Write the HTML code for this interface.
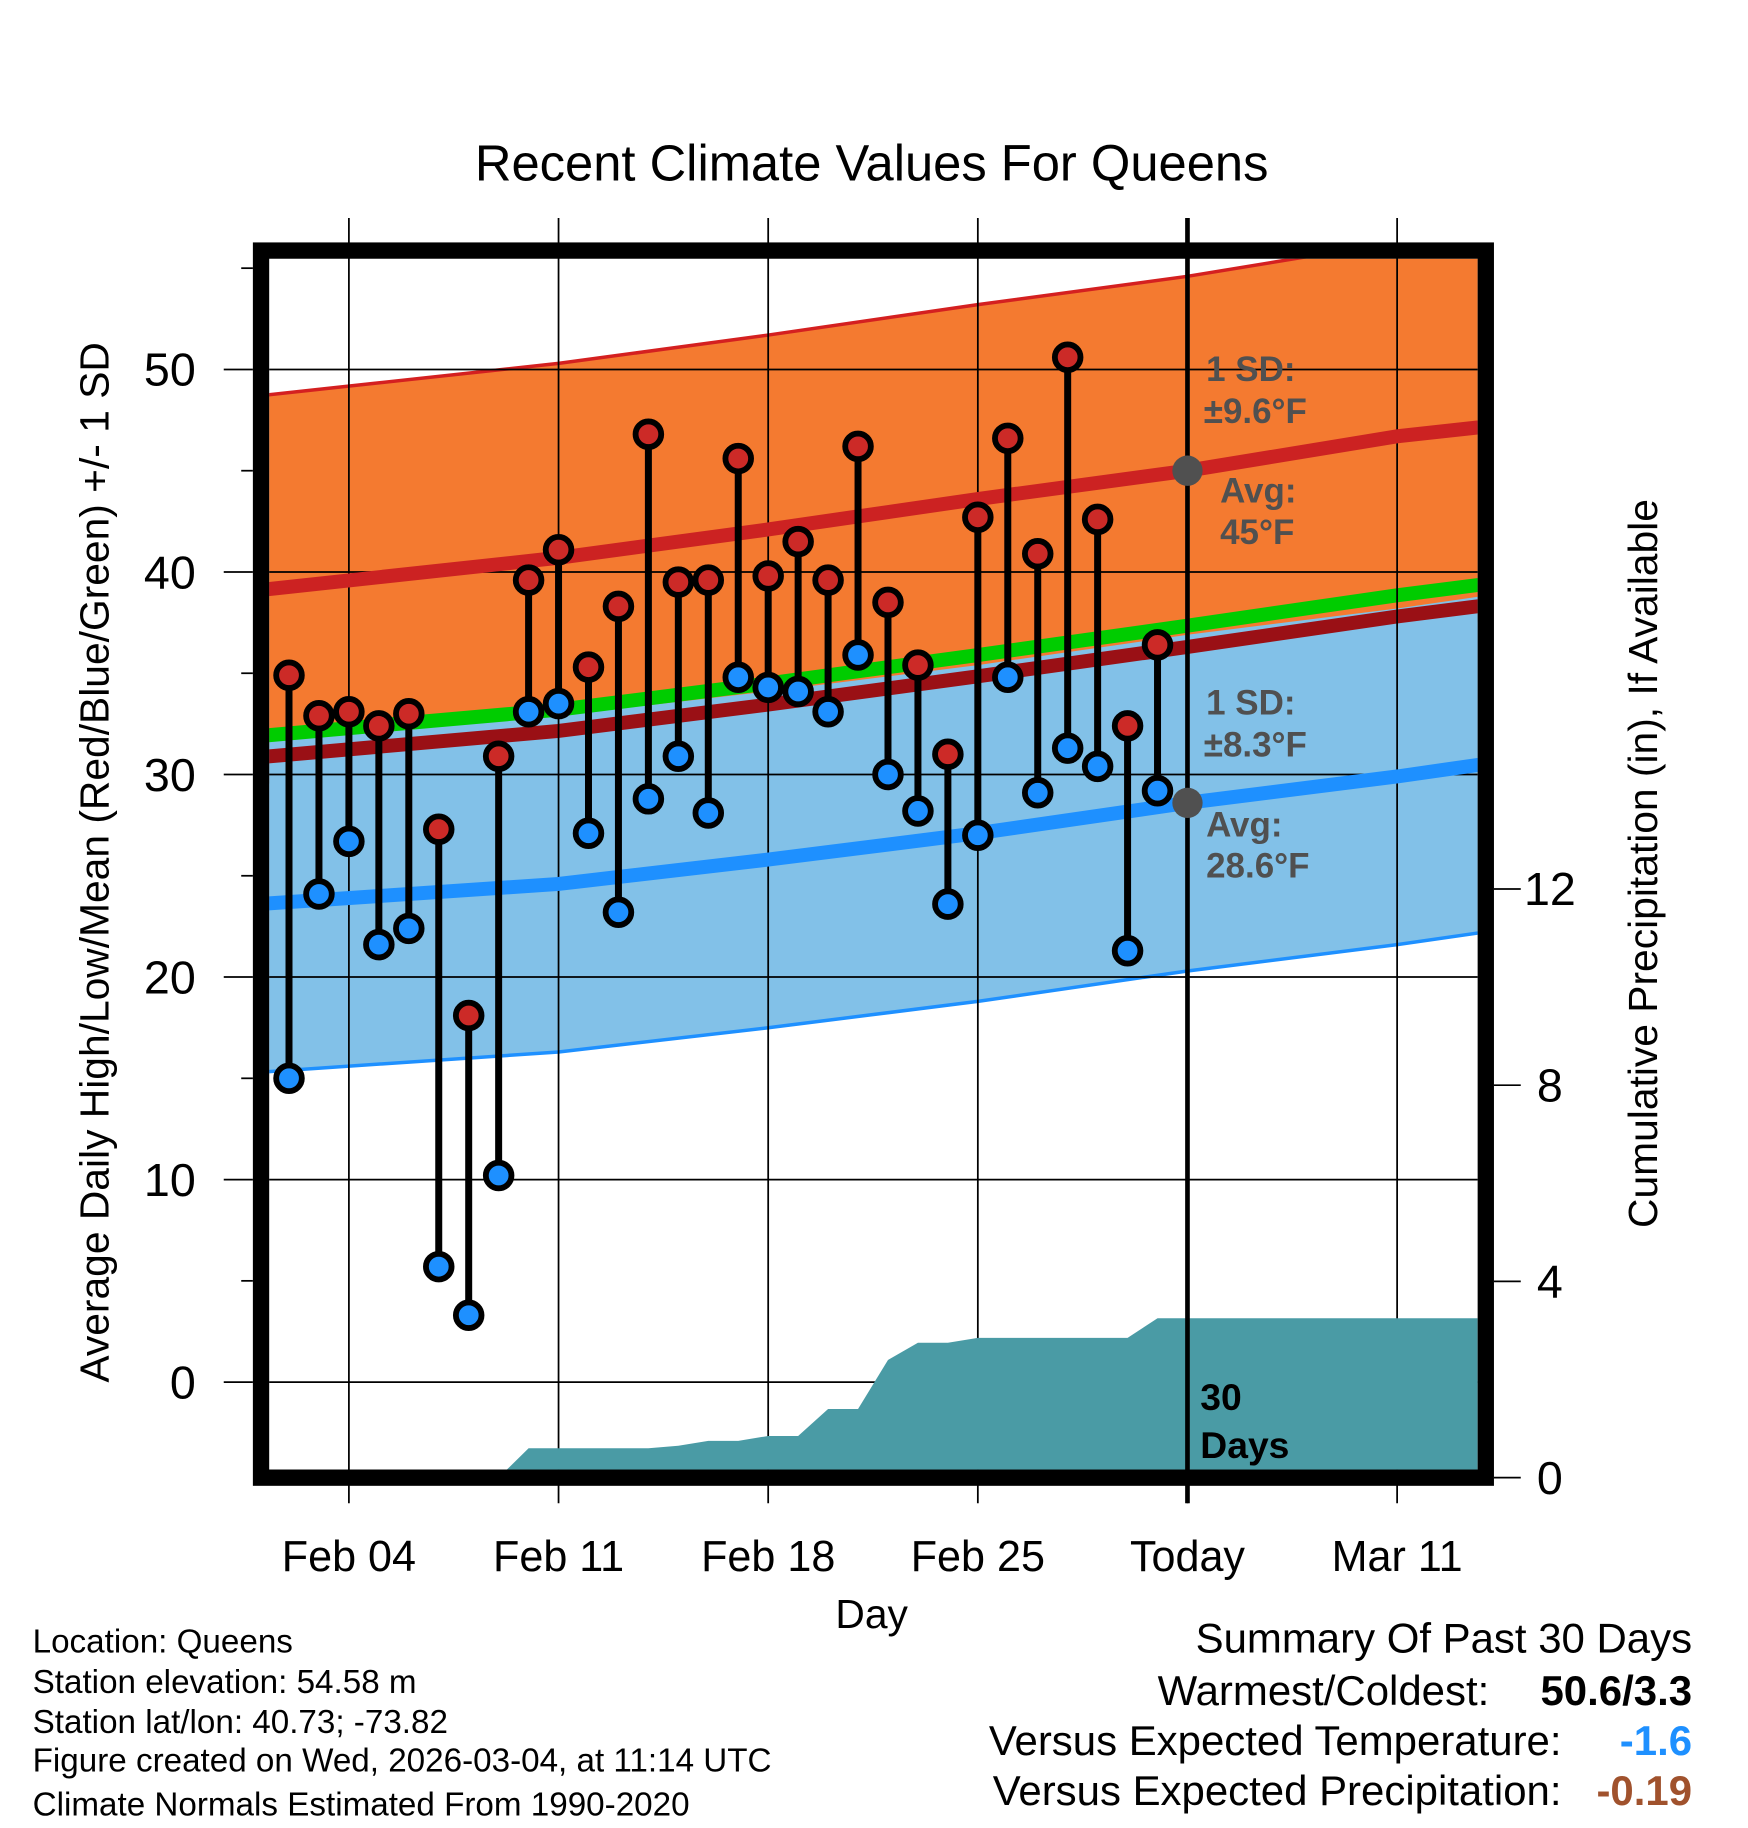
<!DOCTYPE html>
<html><head><meta charset="utf-8"><style>
html,body{margin:0;padding:0;background:#fff;}
svg{display:block;font-family:"Liberation Sans",Arial,sans-serif;}
</style></head><body>
<svg id="chart" width="1748" height="1828" viewBox="0 0 1500 1568.6" xmlns="http://www.w3.org/2000/svg">
<defs><clipPath id="pc"><rect x="231" y="222" width="1037" height="1039"/></clipPath></defs>
<g id="bands" clip-path="url(#pc)"></g>
<g id="grid"></g>
<g id="precip" clip-path="url(#pc)"></g>
<g id="lines" clip-path="url(#pc)"></g>
<g id="marks" clip-path="url(#pc)"></g>
<g id="axes"></g>
<text x="748" y="155" font-size="43.5" text-anchor="middle">Recent Climate Values For Queens</text>
<text transform="translate(93,740) rotate(-90)" font-size="35" text-anchor="middle">Average Daily High/Low/Mean (Red/Blue/Green) +/- 1 SD</text>
<text transform="translate(1422,741) rotate(-90)" font-size="35" text-anchor="middle">Cumulative Precipitation (in), If Available</text>
<text x="748" y="1397" font-size="35" text-anchor="middle">Day</text>
<g font-size="28.5">
<text x="28" y="1418">Location: Queens</text>
<text x="28" y="1453">Station elevation: 54.58 m</text>
<text x="28" y="1487">Station lat/lon: 40.73; -73.82</text>
<text x="28" y="1520">Figure created on Wed, 2026-03-04, at 11:14 UTC</text>
<text x="28" y="1558">Climate Normals Estimated From 1990-2020</text>
</g>
<g font-size="36" text-anchor="end">
<text x="1452" y="1418">Summary Of Past 30 Days</text>
<text x="1278" y="1463">Warmest/Coldest:</text>
<text x="1452" y="1463" font-weight="bold">50.6/3.3</text>
<text x="1340" y="1506">Versus Expected Temperature:</text>
<text x="1452" y="1506" font-weight="bold" fill="#1e90ff">-1.6</text>
<text x="1340" y="1549">Versus Expected Precipitation:</text>
<text x="1452" y="1549" font-weight="bold" fill="#a0522d">-0.19</text>
</g>
</svg>
<script>
const dayLabels=["Feb 04","Feb 11","Feb 18","Feb 25","Today","Mar 11"];
const dayTicks=[3,10,17,24,31,38];
const yTicks=[0,10,20,30,40,50];
const y2Ticks=[0,4,8,12];
const highs=[34.9,32.9,33.1,32.4,33.0,27.3,18.1,30.9,39.6,41.1,35.3,38.3,46.8,39.5,39.6,45.6,39.8,41.5,39.6,46.2,38.5,35.4,31.0,42.7,46.6,40.9,50.6,42.6,32.4,36.4];
const lows=[15.0,24.1,26.7,21.6,22.4,5.7,3.3,10.2,33.1,33.5,27.1,23.2,28.8,30.9,28.1,34.8,34.3,34.1,33.1,35.9,30.0,28.2,23.6,27.0,34.8,29.1,31.3,30.4,21.3,29.2];
const precip=[0,0,0,0,0,0,0,0,0.6,0.6,0.6,0.6,0.6,0.65,0.75,0.75,0.85,0.85,1.4,1.4,2.4,2.75,2.75,2.85,2.85,2.85,2.85,2.85,2.85,3.25];
const normDays=[0,10,17,24,31,38,46];
const normHigh=[39.1,40.7,42.1,43.6,45.0,46.7,48.0];
const normLow=[23.6,24.6,25.8,27.1,28.6,29.9,31.6];
const sdHigh=9.6, sdLow=8.3;

const NS="http://www.w3.org/2000/svg";
const L=231,R=1268,T=222,B=1261;
const xd=d=>248+(d-1)*25.7;
const yv=v=>1186-17.38*v;
const yp=p=>1268-42.1*p;
function mk(tag,attrs,parent){const e=document.createElementNS(NS,tag);for(const k in attrs)e.setAttribute(k,attrs[k]);document.getElementById(parent).appendChild(e);return e;}
function pts(fn){return normDays.map((d,i)=>xd(d).toFixed(1)+","+yv(fn(i)).toFixed(1));}
let up=pts(i=>normHigh[i]+sdHigh), dn=pts(i=>normHigh[i]-sdHigh).reverse();
let e=mk('polygon',{points:up.concat(dn).join(' '),fill:'#f47a30'},'bands');


up=pts(i=>normLow[i]+sdLow); dn=pts(i=>normLow[i]-sdLow).reverse();
e=mk('polygon',{points:up.concat(dn).join(' '),fill:'#82c1e8'},'bands');


e=mk('polyline',{points:pts(i=>normHigh[i]+sdHigh).join(' '),fill:'none',stroke:'#d42020','stroke-width':3},'bands');


e=mk('polyline',{points:pts(i=>normLow[i]-sdLow).join(' '),fill:'none',stroke:'#1e90ff','stroke-width':3},'bands');


e=mk('polyline',{points:pts(i=>(normHigh[i]+normLow[i])/2-0.5).join(' '),fill:'none',stroke:'#9a1015','stroke-width':12},'bands');


e=mk('polyline',{points:pts(i=>(normHigh[i]+normLow[i])/2+0.55).join(' '),fill:'none',stroke:'#00cc00','stroke-width':12},'bands');


yTicks.forEach(v=>{const g=mk('line',{x1:L,x2:R,y1:yv(v),y2:yv(v),stroke:'#000','stroke-width':1.5},'grid');

});
dayTicks.forEach(d=>{const g=mk('line',{x1:xd(d),x2:xd(d),y1:187,y2:1290,stroke:'#000','stroke-width':1.5},'grid');

});
let pp=[xd(8)+','+B];precip.forEach((p,i)=>pp.push(xd(i+1).toFixed(1)+','+yp(p).toFixed(1)));
pp.push(R+','+yp(precip[precip.length-1]).toFixed(1));pp.push(R+','+B);
e=mk('polygon',{points:pp.join(' '),fill:'#4a9ba5'},'precip');


e=mk('polyline',{points:pts(i=>normHigh[i]).join(' '),fill:'none',stroke:'#cc2222','stroke-width':12},'lines');


e=mk('polyline',{points:pts(i=>normLow[i]).join(' '),fill:'none',stroke:'#1e90ff','stroke-width':12},'lines');


highs.forEach((h,i)=>{const x=xd(i+1);
 let s=mk('line',{x1:x,x2:x,y1:yv(h),y2:yv(lows[i]),stroke:'#000','stroke-width':6},'marks');
 
 
 let c=mk('circle',{cx:x,cy:yv(h),r:11,fill:'#cc2a27',stroke:'#000','stroke-width':5},'marks');
 
 
 c=mk('circle',{cx:x,cy:yv(lows[i]),r:11,fill:'#1e90ff',stroke:'#000','stroke-width':5},'marks');
 
 
});
e=mk('line',{x1:xd(31),x2:xd(31),y1:187,y2:1290,stroke:'#000','stroke-width':4},'axes');


e=mk('circle',{cx:xd(31),cy:yv(normHigh[4]),r:13,fill:'#505050'},'axes');


e=mk('circle',{cx:xd(31),cy:yv(normLow[4]),r:13,fill:'#505050'},'axes');


e=mk('rect',{x:224,y:215,width:1051,height:1053,fill:'none',stroke:'#000','stroke-width':14},'axes');


for(let v=-5;v<=55;v+=5){const y=yv(v);if(y<T||y>B)continue;
 const t=mk('line',{x1:v%10===0?192:207,x2:217,y1:y,y2:y,stroke:'#000','stroke-width':1.5},'axes');
 
 }
yTicks.forEach(v=>{const t=mk('text',{x:168,y:yv(v)+14,'font-size':40,'text-anchor':'end'},'axes');t.textContent=v;
 
 });
y2Ticks.forEach(p=>{let t=mk('line',{x1:1282,x2:1305,y1:yp(p),y2:yp(p),stroke:'#000','stroke-width':1.5},'axes');
 
 
 t=mk('text',{x:1330,y:yp(p)+14,'font-size':40,'text-anchor':'middle'},'axes');t.textContent=p;
 
 });
dayTicks.forEach((d,i)=>{const t=mk('text',{x:xd(d),y:1348,'font-size':37,'text-anchor':'middle'},'axes');t.textContent=dayLabels[i];
 
 });
const ann=[["1 SD:",1035,327],["±9.6°F",1033,363],["Avg:",1047,431],["45°F",1047,467],["1 SD:",1035,613],["±8.3°F",1033,649],["Avg:",1035,718],["28.6°F",1035,753]];
ann.forEach(a=>{const t=mk('text',{x:a[1],y:a[2],'font-size':30,'font-weight':'bold',fill:'#505050'},'axes');t.textContent=a[0];
 
 });
[["30",1030,1210],["Days",1030,1251]].forEach(a=>{const t=mk('text',{x:a[1],y:a[2],'font-size':32,'font-weight':'bold',fill:'#000'},'axes');t.textContent=a[0];
 
 });
</script>
</body></html>
